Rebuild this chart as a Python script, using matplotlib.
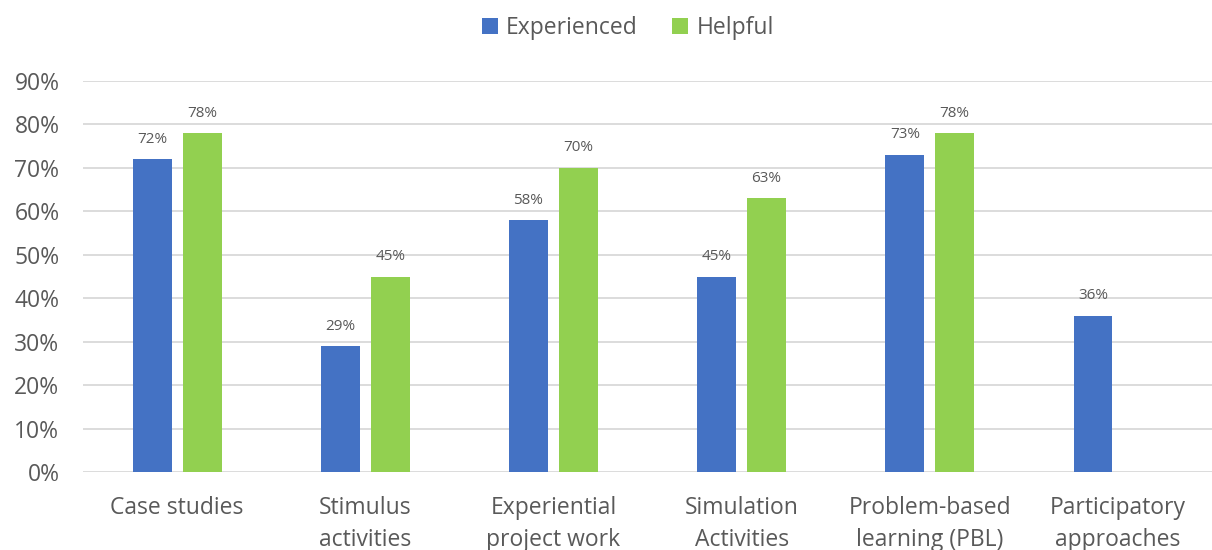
import numpy as np
import matplotlib
matplotlib.use("Agg")
import matplotlib.pyplot as plt
from matplotlib.ticker import PercentFormatter

# survey results: share of respondents per teaching approach
categories = ["Case studies", "Stimulus\nactivities", "Experiential\nproject work",
              "Simulation\nActivities", "Problem-based\nlearning (PBL)", "Participatory\napproaches"]
experienced = [72, 29, 58, 45, 73, 36]
helpful = [78, 45, 70, 63, 78, None]
series_names = ["Experienced", "Helpful"]

BLUE = "#4472C4"
GREEN = "#92D050"
TEXT = "#595959"

plt.rcParams['font.family'] = ["Open Sans", "DejaVu Sans"]

fig = plt.figure(figsize=(12.12, 5.5), dpi=100)
ax = fig.add_axes([0.0685, 0.1418, 0.9315, 0.7109])

x = np.arange(len(categories))
w = 0.207
off = 0.1325

def draw(vals, shift, color, label):
    xs = [xi + shift for xi, v in zip(x, vals) if v is not None]
    hs = [v / 100 for v in vals if v is not None]
    bars = ax.bar(xs, hs, width=w, color=color, label=label, zorder=3)
    for b, v in zip(bars, [v for v in vals if v is not None]):
        ax.annotate(f"{v}%", (b.get_x() + b.get_width() / 2, b.get_height()),
                    xytext=(0, 9), textcoords="offset points",
                    ha="center", va="bottom", fontsize=11, color=TEXT)
    return bars

draw(experienced, -off, BLUE, series_names[0])
draw(helpful, off, GREEN, series_names[1])

ax.set_xlim(-0.5, len(categories) - 0.5)
ax.set_ylim(0, 0.9)
ax.set_yticks(np.arange(0, 0.91, 0.1))
ax.yaxis.set_major_formatter(PercentFormatter(1.0, decimals=0))
ax.set_xticks(x)
ax.set_xticklabels(categories, linespacing=1.45)
ax.tick_params(axis="both", length=0, labelsize=16.5, colors=TEXT)
ax.tick_params(axis="x", pad=17)
ax.tick_params(axis="y", pad=17)

ax.grid(axis="y", color="#D9D9D9", linewidth=1.3, zorder=0)
for s in ax.spines.values():
    s.set_visible(False)

fig.legend(loc="upper center", bbox_to_anchor=(0.518, 1.008), ncol=2, frameon=False,
           fontsize=16.5, labelcolor=TEXT, handlelength=0.7, handleheight=0.7,
           handletextpad=0.35, columnspacing=1.5)

fig.savefig("out.png", dpi=100)
